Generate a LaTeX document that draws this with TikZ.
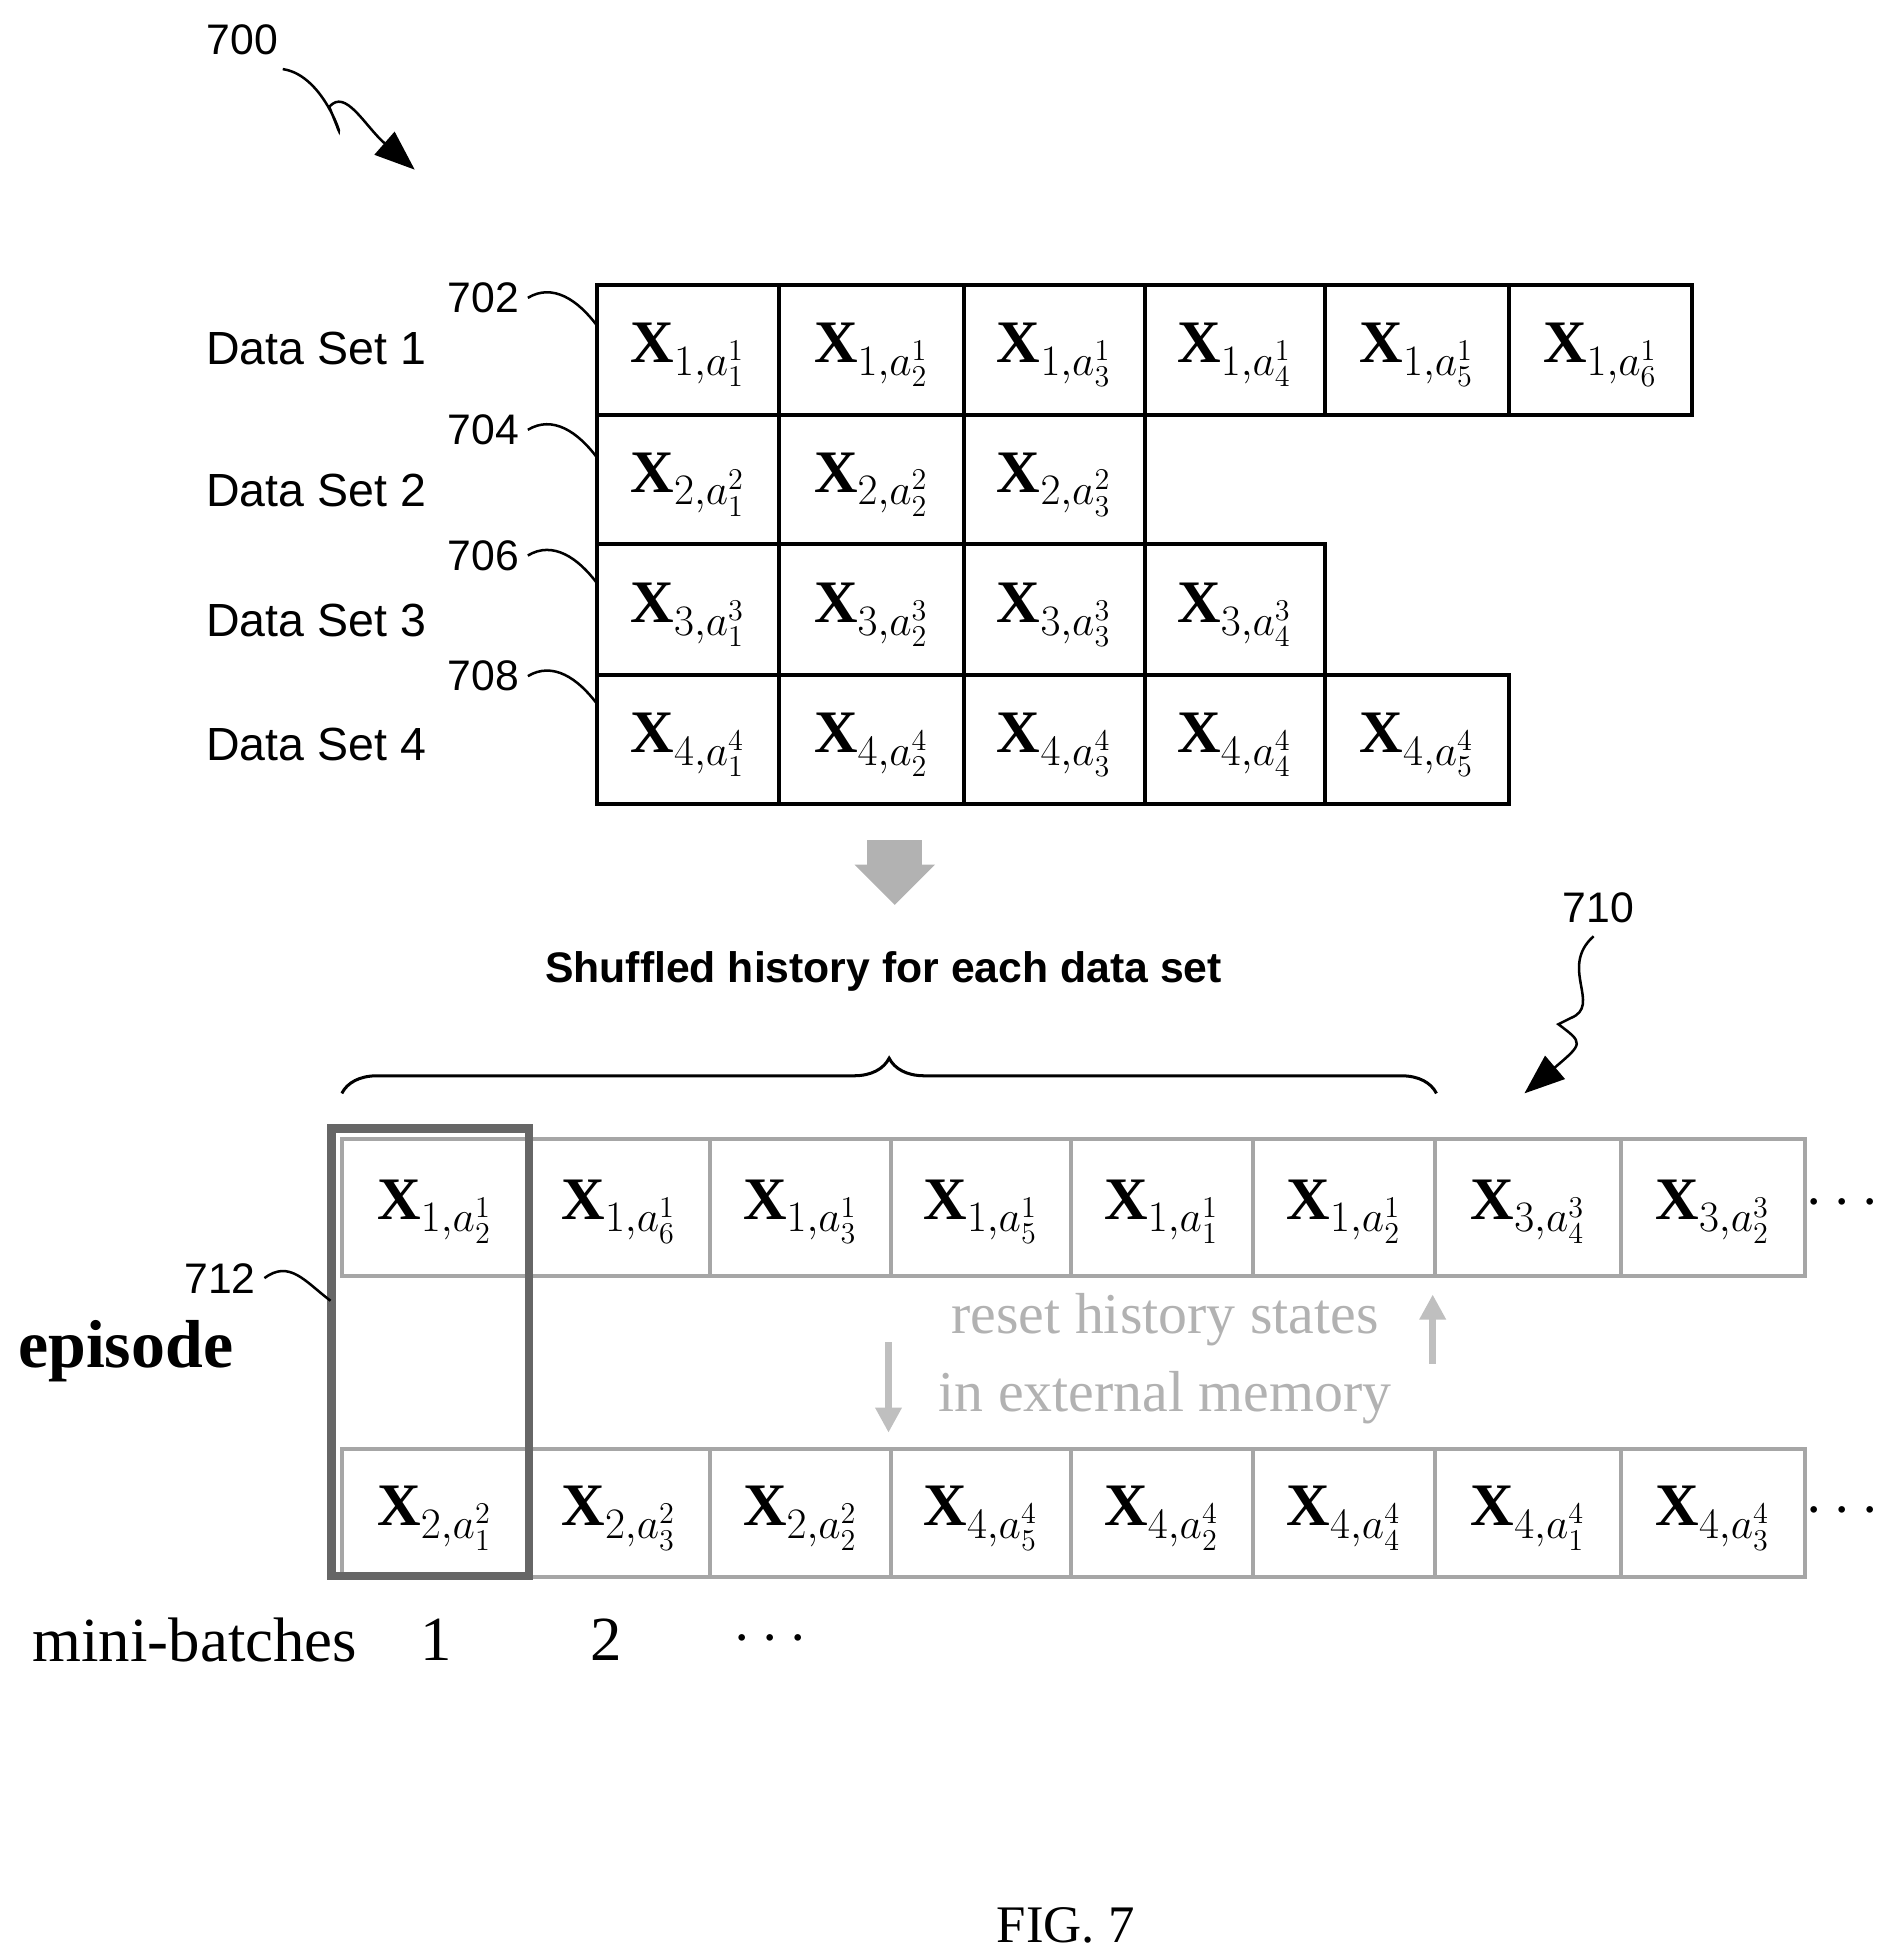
\documentclass[tikz,border=0pt]{standalone}
\usepackage{amsmath}
\usepackage{fontspec}
\setsansfont{Liberation Sans}
\setmainfont{Liberation Serif}
\usetikzlibrary{arrows.meta,decorations.pathreplacing}
\begin{document}
\begin{tikzpicture}[x=0.5pt,y=-0.5pt,
  lab/.style={font=\sffamily\fontsize{18.5}{20}\selectfont,anchor=west},
  ref/.style={font=\sffamily\fontsize{17}{20}\selectfont},
  sq/.style={line width=1pt}]
\useasboundingbox (0,0) rectangle (1500,1558);
\newcommand{\xv}[3]{$\mathbf{X}_{#1,a^{#2}_{#3}}$}
% top grid
\def\cx{{475,620,767,911,1054,1201,1346}}
\foreach \r/\n/\ya/\yb in {1/6/227/330,2/3/330/433,3/4/433/537,4/5/537/640}{
  \foreach \c in {1,...,\n}{
    \pgfmathsetmacro\xa{\cx[\c-1]}\pgfmathsetmacro\xb{\cx[\c]}
    \draw[line width=1.6pt] (\xa,\ya) rectangle (\xb,\yb);
    \node[font=\fontsize{24}{28}\selectfont] (t\r\c) at ({(\xa+\xb)/2},{(\ya+\yb)/2+4}) {\xv{\r}{\r}{\c}};
  }}
\node[lab] (d1) at (157,277) {Data Set 1};
\node[lab] (d2) at (157,390) {Data Set 2};
\node[lab] (d3) at (157,494) {Data Set 3};
\node[lab] (d4) at (157,592) {Data Set 4};
\foreach \n/\y in {702/237,704/342,706/442,708/538}{
  \node[ref,anchor=east] (r\n) at (420,\y) {\n};
  \coordinate (e\n) at (475,\y+22);
  \draw[sq] (r\n.east) .. controls ++(20,-12) and ++(-15,-20) .. (e\n);
}
% 700
\node[ref] (r700) at (193,32) {700};
\coordinate (a700) at (330,135);
\draw[sq,-{Triangle[length=16pt,width=12pt]}] (225,55) .. controls (260,60) and (275,120) .. (268,100) -- (262,85) .. controls (275,70) and (290,100) .. (a700);
% blurred down arrow
\fill[gray!60] (690,668) rectangle (734,690);
\fill[gray!60] (680,688) -- (744,688) -- (712,720) -- cycle;
\node[font=\sffamily\bfseries\fontsize{17}{20}\selectfont] (sh) at (703,773) {Shuffled history for each data set};
\draw[decorate,decoration={brace,amplitude=14pt},line width=1.2pt] (272,870) -- (1143,870);
% 710
\node[ref] (r710) at (1272,722) {710};
\coordinate (a710) at (1213,870);
\draw[sq,-{Triangle[length=16pt,width=12pt]}] (1268,745) .. controls (1240,770) and (1275,800) .. (1250,810) -- (1240,815) .. controls (1260,830) .. (a710);
% bottom rows
\def\bx{{272,420,565,709,852,997,1142,1290,1436}}
\foreach \c/\s/\k in {1/1/2,2/1/6,3/1/3,4/1/5,5/1/1,6/1/2,7/3/4,8/3/2}{
  \pgfmathsetmacro\xa{\bx[\c-1]}\pgfmathsetmacro\xb{\bx[\c]}
  \draw[gray!70,line width=1.6pt] (\xa,906) rectangle (\xb,1015);
  \node[font=\fontsize{24}{28}\selectfont] (u\c) at ({(\xa+\xb)/2},964) {\xv{\s}{\s}{\k}};
}
\foreach \c/\s/\k in {1/2/1,2/2/3,3/2/2,4/4/5,5/4/2,6/4/4,7/4/1,8/4/3}{
  \pgfmathsetmacro\xa{\bx[\c-1]}\pgfmathsetmacro\xb{\bx[\c]}
  \draw[gray!70,line width=1.6pt] (\xa,1153) rectangle (\xb,1255);
  \node[font=\fontsize{24}{28}\selectfont] (v\c) at ({(\xa+\xb)/2},1208) {\xv{\s}{\s}{\k}};
}
\node[font=\fontsize{24}{28}\selectfont] (dt1) at (1470,958) {$\cdots$};
\node[font=\fontsize{24}{28}\selectfont] (dt2) at (1470,1203) {$\cdots$};
\draw[gray!80!black,line width=3.5pt] (264,898) rectangle (421,1254);
\node[ref] (r712) at (175,1017) {712};
\coordinate (e712) at (263,1035);
\draw[sq] (r712.east) .. controls ++(20,-15) and ++(-20,-15) .. (e712);
\node[font=\bfseries\fontsize{27}{30}\selectfont] (ep) at (100,1075) {episode};
\node[font=\fontsize{23}{26}\selectfont,text=gray!60] (rs1) at (927,1050) {reset history states};
\node[font=\fontsize{23}{26}\selectfont,text=gray!60] (rs2) at (927,1112) {in external memory};
\coordinate (up1) at (1140,1085); \coordinate (up2) at (1140,1030);
\draw[gray!50,line width=3pt,-{Triangle[length=10pt,width=10pt]}] (up1) -- (up2);
\coordinate (dn1) at (707,1068); \coordinate (dn2) at (707,1140);
\draw[gray!50,line width=3pt,-{Triangle[length=10pt,width=10pt]}] (dn1) -- (dn2);
\node[font=\fontsize{25}{28}\selectfont] (mb) at (155,1305) {mini-batches};
\node[font=\fontsize{25}{28}\selectfont] (m1) at (347,1305) {1};
\node[font=\fontsize{25}{28}\selectfont] (m2) at (482,1305) {2};
\node[font=\fontsize{25}{28}\selectfont] (m3) at (617,1305) {$\cdots$};
\node[font=\fontsize{21}{24}\selectfont] (fig) at (848,1532) {FIG. 7};
\end{tikzpicture}
\end{document}
